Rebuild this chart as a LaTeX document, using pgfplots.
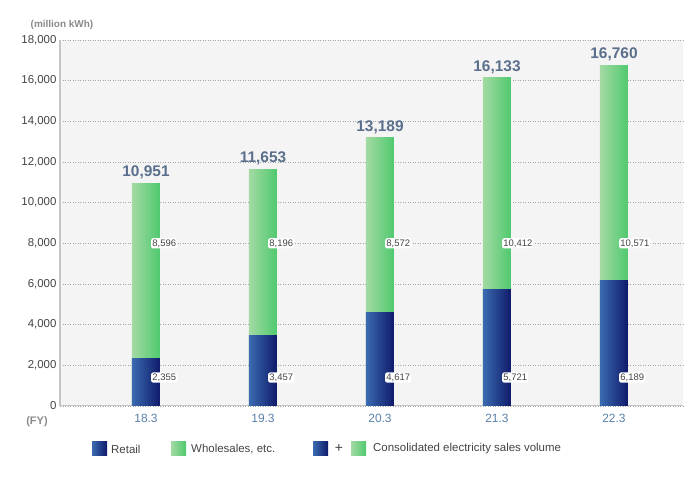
\documentclass[border=0pt]{standalone}
\usepackage{pgfplots}
\pgfplotsset{compat=1.18}
\usepackage{pgfplotstable}
\usepackage{fontspec}
\setmainfont{Liberation Sans}

\definecolor{retL}{HTML}{3A6BB0}
\definecolor{retR}{HTML}{101A6A}
\definecolor{whL}{HTML}{A3DAA3}
\definecolor{whR}{HTML}{4FC96E}
\definecolor{bgc}{HTML}{F4F4F4}
\definecolor{totc}{HTML}{5A6F8C}
\definecolor{xtc}{HTML}{5A80AA}
\definecolor{axc}{HTML}{C4C4C4}
\definecolor{lblc}{HTML}{8A8A8A}
\definecolor{txc}{HTML}{444444}

% FY, retail, wholesale, total; ly1/ly2 = height of the value boxes
\pgfplotstableread{
x retail wholesale total ly1 ly2
0 2355 8596 10951 1400 8000
1 3457 8196 11653 1400 8000
2 4617 8572 13189 1400 8000
3 5721 10412 16133 1400 8000
4 6189 10571 16760 1400 8000
}\datatable

\begin{document}
\begin{tikzpicture}
\path[use as bounding box] (0,0) rectangle (695bp,480bp);
\begin{axis}[
  at={(60bp,74bp)}, anchor=south west,
  scale only axis, width=623bp, height=366bp,
  xmin=-0.735, xmax=4.59, ymin=0, ymax=18000,
  axis background/.style={fill=bgc},
  axis x line*=bottom, axis y line*=left,
  axis line style={draw=axc, line width=1bp, -},
  y axis line style={line width=2bp},
  xtick={0,...,4}, xticklabels={18.3,19.3,20.3,21.3,22.3},
  ytick={0,2000,...,18000},
  scaled y ticks=false,
  major tick length=0pt,
  ymajorgrids,
  major grid style={draw=black!35, line width=0.6bp, dash pattern=on 1bp off 1.5bp},
  /pgf/number format/.cd, 1000 sep={,}, assume math mode=true,
  /pgfplots/.cd,
  yticklabel style={font=\fontsize{11.5}{12}\selectfont, text=txc},
  xticklabel style={font=\fontsize{12}{13}\selectfont, text=xtc, yshift=-5bp},
  clip=false,
]
% one plot per bar, so that each bar gets its own shading
\pgfplotsinvokeforeach{0,...,4}{
  \addplot[ybar, bar width=28bp, bar shift=0pt, draw=none, left color=whL, right color=whR,
    restrict x to domain=#1:#1]
    table[x=x, y=total] \datatable;
  \addplot[ybar, bar width=28bp, bar shift=0pt, draw=none, left color=retL, right color=retR,
    restrict x to domain=#1:#1]
    table[x=x, y=retail] \datatable;
}
% value boxes
\addplot[draw=none, nodes near coords, point meta=explicit,
  nodes near coords style={anchor=west, xshift=5bp, fill=white, rounded corners=2bp,
    inner sep=1.2bp, text=txc, font=\fontsize{9.5}{10}\selectfont}]
  table[x=x, y=ly1, meta=retail] \datatable;
\addplot[draw=none, nodes near coords, point meta=explicit,
  nodes near coords style={anchor=west, xshift=5bp, fill=white, rounded corners=2bp,
    inner sep=1.2bp, text=txc, font=\fontsize{9.5}{10}\selectfont}]
  table[x=x, y=ly2, meta=wholesale] \datatable;
% totals
\addplot[draw=none, nodes near coords, point meta=explicit,
  nodes near coords style={anchor=south, yshift=0.5bp, text=totc,
    font=\bfseries\fontsize{15.5}{16}\selectfont}]
  table[x=x, y=total, meta=total] \datatable;
\end{axis}

\node[text=lblc, font=\bfseries\fontsize{10}{11}\selectfont] at (62bp,455bp) {(million kWh)};
\node[text=lblc, font=\bfseries\fontsize{11}{12}\selectfont] at (37bp,58bp) {(FY)};

% legend
\begin{scope}[font=\fontsize{11.5}{12}\selectfont]
\fill[left color=retL, right color=retR] (92bp,24bp) rectangle (107bp,38bp);
\node[anchor=west, text=txc, inner sep=0pt] at (111bp,31bp) {Retail};
\fill[left color=whL, right color=whR] (171bp,24bp) rectangle (186bp,38bp);
\node[anchor=west, text=txc, inner sep=0pt] at (191bp,31bp) {Wholesales, etc.};
\fill[left color=retL, right color=retR] (313bp,24bp) rectangle (328bp,38bp);
\node[text=txc, inner sep=0pt, font=\fontsize{14}{14}\selectfont] at (339bp,31.5bp) {+};
\fill[left color=whL, right color=whR] (351bp,24bp) rectangle (366bp,38bp);
\node[anchor=west, text=txc, inner sep=0pt] at (373bp,31bp) {Consolidated electricity sales volume};
\end{scope}
\end{tikzpicture}
\end{document}
